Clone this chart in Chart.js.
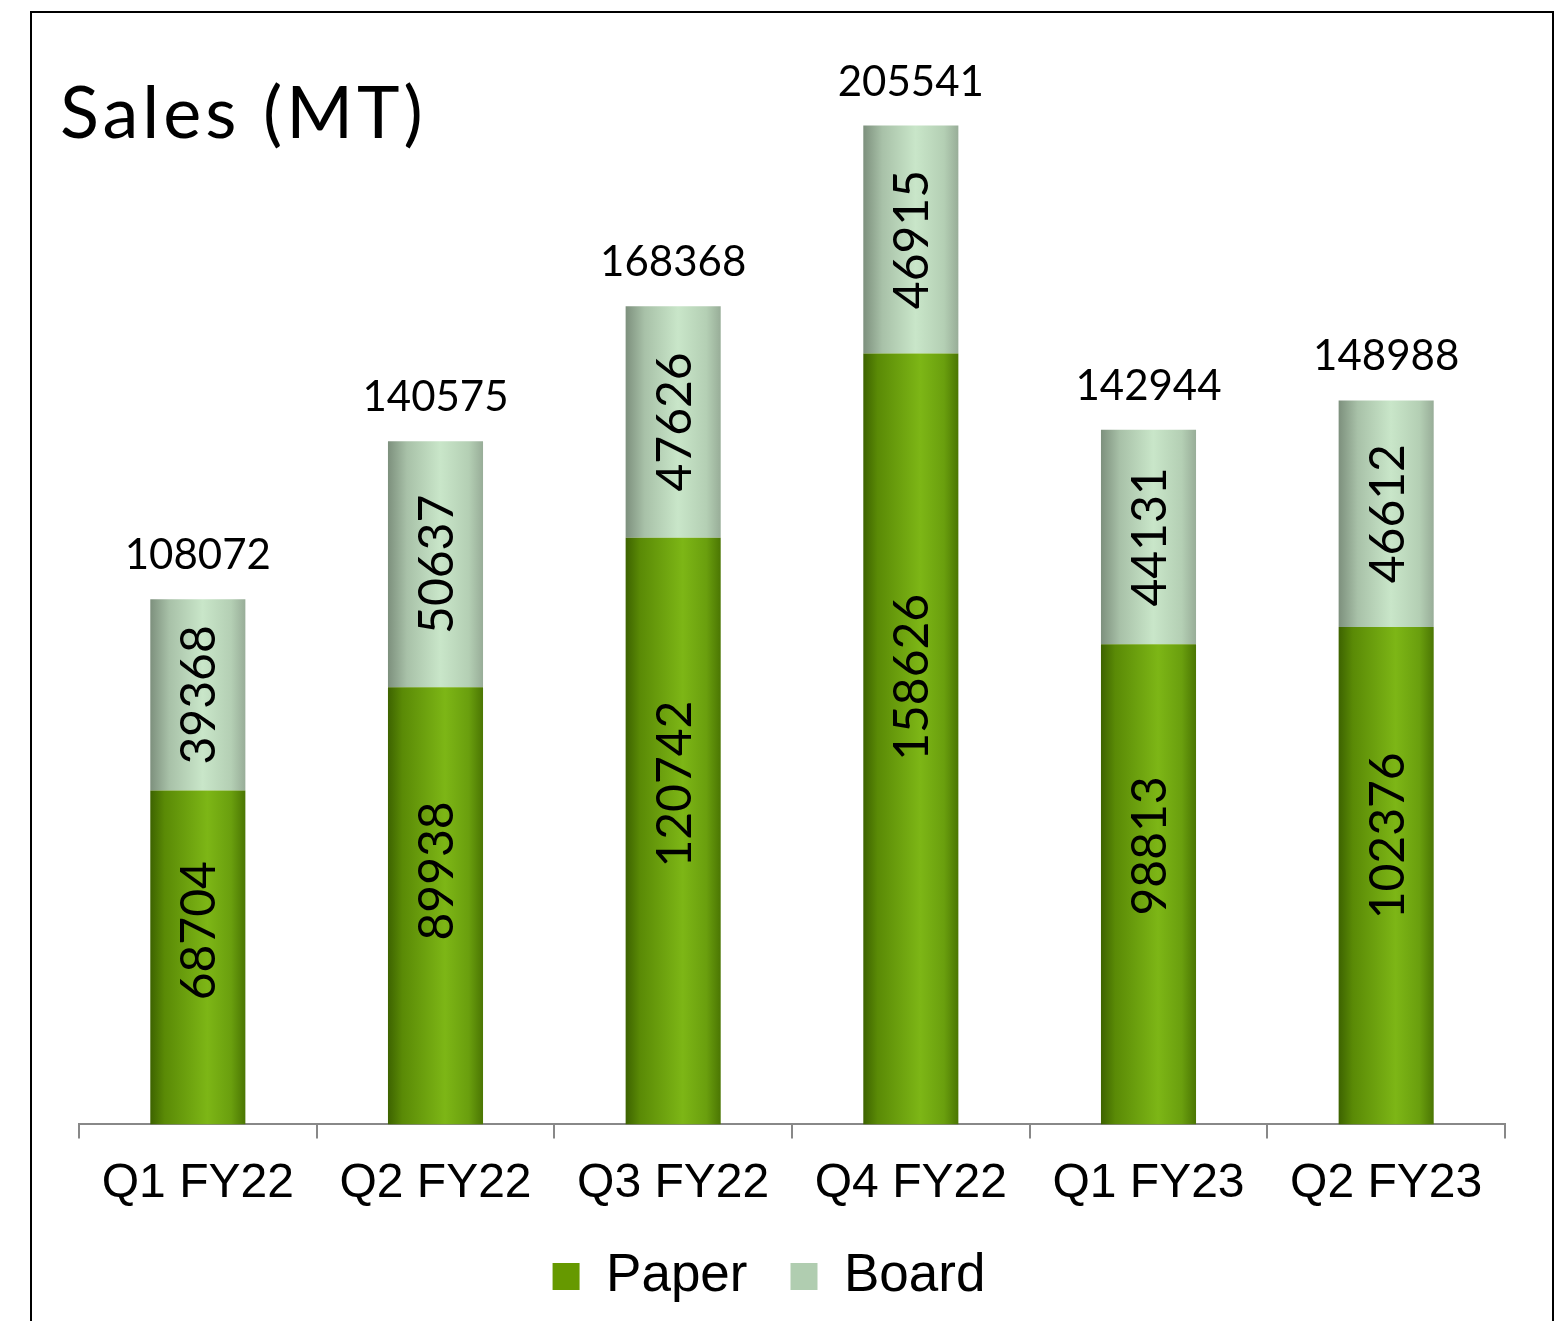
<!DOCTYPE html>
<html>
<head>
<meta charset="utf-8">
<script src="https://cdn.jsdelivr.net/npm/chart.js@4.4.0/dist/chart.umd.min.js"></script>
<style>
  html, body { margin: 0; padding: 0; background: #fff; overflow: hidden; }
  #wrap { position: relative; width: 1560px; height: 1321px; }
</style>
</head>
<body>
<div id="wrap"><canvas id="salesChart" width="1560" height="1321"></canvas></div>
<script>
// quarters and sales in MT
let quarters = ["Q1 FY22", "Q2 FY22", "Q3 FY22", "Q4 FY22", "Q1 FY23", "Q2 FY23"];
let paperSales = [68704, 89938, 120742, 158626, 98813, 102376];
let boardSales = [39368, 50637, 47626, 46915, 44131, 46612];
let totalSales = [108072, 140575, 168368, 205541, 142944, 148988];

let numFont = "Lato, 'Noto Sans', sans-serif";
let paperStops = [[0, "#3d6300"], [0.15, "#5a8a06"], [0.6, "#7db616"], [0.85, "#6a9f0e"], [1, "#4b7603"]];
let boardStops = [[0, "#7d907d"], [0.2, "#a8c1a8"], [0.55, "#c9e6c9"], [0.85, "#b4cfb4"], [1, "#98ad98"]];

// horizontal gradient across each bar, bar position taken from the x scale
function barFill(context, stops, plain) {
  let chart = context.chart;
  let xs = chart.scales.x;
  if (!xs || !chart.chartArea) return plain;
  let cx = xs.getPixelForValue(context.dataIndex);
  let w = (xs.width / quarters.length) * 0.4;
  let g = chart.ctx.createLinearGradient(cx - w / 2, 0, cx + w / 2, 0);
  stops.forEach((s) => g.addColorStop(s[0], s[1]));
  return g;
}

let frameAndTitle = {
  id: "frameAndTitle",
  afterLayout(chart) {
    // nudge legend a bit left and up
    let lg = chart.legend;
    if (lg) {
      lg.left -= 23;
      lg.right -= 23;
      lg.top -= 23;
      lg.bottom -= 23;
    }
  },
  beforeDraw(chart) {
    let ctx = chart.ctx;
    ctx.save();
    ctx.strokeStyle = "#000";
    ctx.lineWidth = 2;
    ctx.beginPath();
    ctx.moveTo(31, 1330);
    ctx.lineTo(31, 12);
    ctx.lineTo(1553, 12);
    ctx.lineTo(1553, 1330);
    ctx.stroke();
    ctx.fillStyle = "#000";
    ctx.font = "72px " + numFont;
    ctx.letterSpacing = "4px";
    ctx.textAlign = "left";
    ctx.textBaseline = "alphabetic";
    ctx.fillText("Sales (MT)", 60, 138);
    ctx.restore();
  },
};

let barLabels = {
  id: "barLabels",
  afterDatasetsDraw(chart) {
    let ctx = chart.ctx;
    let paperMeta = chart.getDatasetMeta(0);
    let boardMeta = chart.getDatasetMeta(1);
    ctx.save();
    ctx.fillStyle = "#000";
    for (let i = 0; i < quarters.length; i++) {
      let p = paperMeta.data[i];
      let b = boardMeta.data[i];
      ctx.font = "48px " + numFont;
      ctx.textAlign = "center";
      ctx.textBaseline = "middle";
      // paper value, rotated
      let py = p.y + (p.base - p.y) * 0.42;
      ctx.save();
      ctx.translate(p.x, py);
      ctx.rotate(-Math.PI / 2);
      ctx.fillText(String(paperSales[i]), 0, 2);
      ctx.restore();
      // board value, rotated
      let by = (b.y + b.base) / 2;
      ctx.save();
      ctx.translate(b.x, by);
      ctx.rotate(-Math.PI / 2);
      ctx.fillText(String(boardSales[i]), 0, 2);
      ctx.restore();
      // total above the bar
      ctx.font = "42px " + numFont;
      ctx.textBaseline = "alphabetic";
      ctx.fillText(String(totalSales[i]), b.x, b.y - 30);
    }
    ctx.restore();
  },
};

let salesCfg = {
  type: "bar",
  data: {
    labels: quarters,
    datasets: [
      {
        label: "Paper",
        data: paperSales,
        backgroundColor: (c) => barFill(c, paperStops, "#669900"),
        categoryPercentage: 1,
        barPercentage: 0.4,
      },
      {
        label: "Board",
        data: boardSales,
        backgroundColor: (c) => barFill(c, boardStops, "#b0cdb0"),
        categoryPercentage: 1,
        barPercentage: 0.4,
      },
    ],
  },
  options: {
    responsive: false,
    animation: false,
    layout: { padding: { left: 79, right: 55, top: 31, bottom: -15 } },
    scales: {
      x: {
        stacked: true,
        grid: { display: true, drawOnChartArea: false, tickLength: 14, color: "#888", lineWidth: 2 },
        border: { display: true, color: "#888", width: 2 },
        ticks: { color: "#000", padding: 17, font: { family: "'Liberation Sans', Arial, sans-serif", size: 48 } },
      },
      y: {
        stacked: true,
        display: false,
        min: 0,
        max: 225000,
      },
    },
    plugins: {
      tooltip: { enabled: false },
      legend: {
        position: "bottom",
        labels: {
          color: "#000",
          boxWidth: 27,
          boxHeight: 27,
          padding: 43,
          font: { family: "'Liberation Sans', Arial, sans-serif", size: 53 },
          generateLabels: () => [
            { text: "Paper", fillStyle: "#669900", strokeStyle: "#669900", lineWidth: 0, datasetIndex: 0 },
            { text: "Board", fillStyle: "#b0cdb0", strokeStyle: "#b0cdb0", lineWidth: 0, datasetIndex: 1 },
          ],
        },
      },
    },
  },
  plugins: [frameAndTitle, barLabels],
};

let salesChart = new Chart(document.getElementById("salesChart"), salesCfg);
</script>
</body>
</html>
